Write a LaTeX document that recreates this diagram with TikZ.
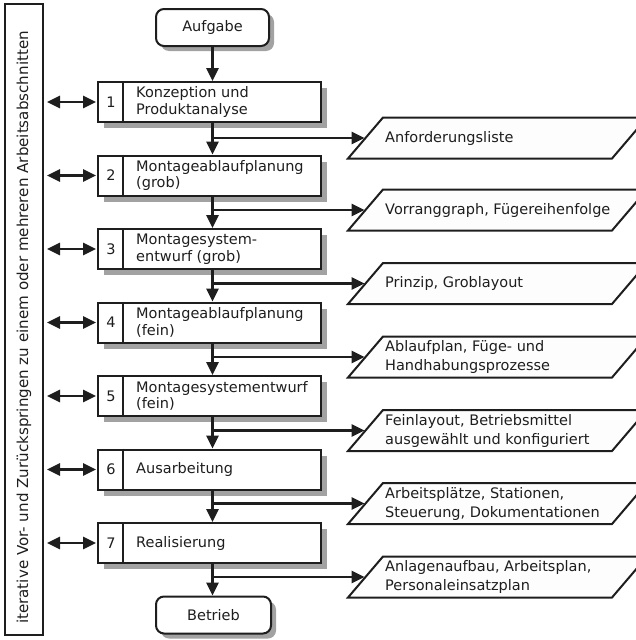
\documentclass[tikz,border=0pt]{standalone}
\usepackage{fontspec}
\setmainfont{DejaVu Sans}
\usetikzlibrary{arrows.meta,shadows}

\definecolor{ink}{HTML}{1E1E1E}
\definecolor{shade}{HTML}{A2A2A2}
\definecolor{paper}{HTML}{FDFDFD}

\begin{document}
\begin{tikzpicture}[x=1pt,y=-1pt,
  every node/.style={text=ink, inner sep=0pt,
    font=\fontsize{14.5}{16.7}\selectfont},
  terminal/.style={draw=ink, line width=2pt, fill=white, rounded corners=8pt,
    minimum width=113pt, minimum height=37pt,
    drop shadow={shadow xshift=5pt, shadow yshift=-5pt, fill=shade, opacity=1}},
  stepbox/.style={draw=ink, line width=2pt, fill=white,
    minimum width=223pt, minimum height=40pt,
    drop shadow={shadow xshift=6pt, shadow yshift=-6pt, fill=shade, opacity=1}},
  result/.style={draw=ink, line width=2pt, fill=paper, line join=miter},
  resulttext/.style={anchor=west, align=left,
    font=\fontsize{14.5}{19}\selectfont},
  boxtext/.style={anchor=west, align=left},
  flow/.style={draw=ink, line width=2.8pt, -{Triangle[length=13pt,width=12pt]}},
  link/.style={draw=ink, line width=2.8pt,
    {Triangle[length=13pt,width=12pt]}-{Triangle[length=13pt,width=12pt]},
    shorten <=3pt, shorten >=1pt},
  divider/.style={draw=ink, line width=2pt}]

\clip (0,0) rectangle (636,640);

% side panel with the vertical caption
\node[draw=ink, line width=2pt, minimum width=38pt, minimum height=631pt] (side) at (24,319.5) {};
\node[rotate=90, font=\fontsize{15.1}{18}\selectfont] (sidetext) at (24,327.5)
  {iterative Vor- und Zurückspringen zu einem oder mehreren Arbeitsabschnitten};

% start and end
\node[terminal] (start) at (212.5,27.5) {Aufgabe};
\node[terminal, minimum width=115pt] (end) at (213.5,615) {Betrieb};

% process steps
\foreach \i/\y/\txt in {
  1/102/{Konzeption und\\Produktanalyse},
  2/175.5/{Montageablaufplanung\\(grob)},
  3/249/{Montagesystem-\\entwurf (grob)},
  4/322.5/{Montageablaufplanung\\(fein)},
  5/396/{Montagesystementwurf\\(fein)},
  6/469.5/{Ausarbeitung},
  7/543/{Realisierung}}{
  \node[stepbox] (b\i) at (209.5,\y) {};
  \draw[divider] ([xshift=26pt]b\i.north west) -- ([xshift=26pt]b\i.south west);
  \node (n\i) at ([xshift=14pt]b\i.west) {\i};
  \node[boxtext] (l\i) at ([xshift=39pt]b\i.west) {\txt};
  \draw[link] (side.east |- b\i.west) -- (b\i.west);
}

% results of each step: parallelograms running off the right edge
\foreach \i/\y/\txt in {
  1/138/{Anforderungsliste},
  2/210/{Vorranggraph, Fügereihenfolge},
  3/283.5/{Prinzip, Groblayout},
  4/357/{Ablaufplan, Füge- und\\Handhabungsprozesse},
  5/430.5/{Feinlayout, Betriebsmittel\\ausgewählt und konfiguriert},
  6/503.5/{Arbeitsplätze, Stationen,\\Steuerung, Dokumentationen},
  7/577/{Anlagenaufbau, Arbeitsplan,\\Personaleinsatzplan}}{
  \draw[result] (348,{\y+20.5}) -- (383,{\y-20.5}) -- (647,{\y-20.5})
    -- (612,{\y+20.5}) -- cycle;
  \coordinate (o\i) at (365.5,\y);
  \node[resulttext] (t\i) at (385,\y) {\txt};
}

% main flow
\draw[flow] (start.south) -- (start.south |- b1.north);
\foreach \i/\j in {1/2,2/3,3/4,4/5,5/6,6/7}{
  \draw[flow] (start.south |- b\i.south) -- (start.south |- b\j.north);
}
\draw[flow] (start.south |- b7.south) -- (end.north -| start.south);

% branches to the results
\foreach \i in {1,...,7}{
  \draw[flow, shorten >=1pt] (start.south |- o\i) -- (o\i);
}
\end{tikzpicture}
\end{document}
